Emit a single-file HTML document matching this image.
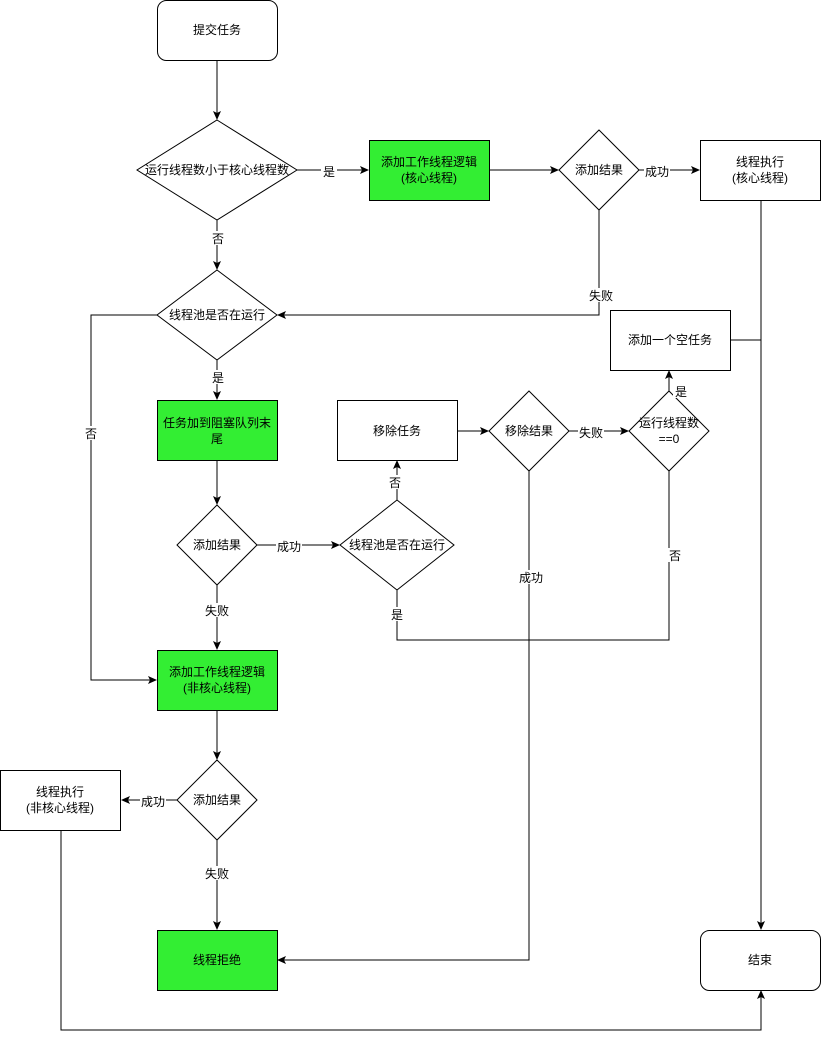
<!DOCTYPE html>
<html><head><meta charset="utf-8"><style>
html,body{margin:0;padding:0;background:#fff;}
svg{display:block;}
text{font-family:"Liberation Sans","Noto Sans CJK SC",sans-serif;font-size:12px;fill:#000;}
</style></head><body>
<svg width="821" height="1039" viewBox="0 0 821 1039" xmlns="http://www.w3.org/2000/svg">
<defs><marker id="a" markerWidth="10" markerHeight="10" refX="8" refY="5" orient="auto" markerUnits="userSpaceOnUse"><path d="M0,1 L9,5 L0,9 L2,5 Z" fill="#000"/></marker></defs>
<g fill="none" stroke="#000" stroke-width="1">
<path d="M217,60V119" marker-end="url(#a)"/>
<path d="M297,170H368" marker-end="url(#a)"/>
<path d="M490,170H558" marker-end="url(#a)"/>
<path d="M639,170H699" marker-end="url(#a)"/>
<path d="M217,220V269" marker-end="url(#a)"/>
<path d="M599,210V315H278" marker-end="url(#a)"/>
<path d="M761,200V929" marker-end="url(#a)"/>
<path d="M730,340H761"/>
<path d="M160,315H91V680H156" marker-end="url(#a)"/>
<path d="M217,360V399" marker-end="url(#a)"/>
<path d="M217,460V504" marker-end="url(#a)"/>
<path d="M257,545H339" marker-end="url(#a)"/>
<path d="M397,500V461" marker-end="url(#a)"/>
<path d="M457,431H488" marker-end="url(#a)"/>
<path d="M569,431H628" marker-end="url(#a)"/>
<path d="M669,391V371" marker-end="url(#a)"/>
<path d="M669,471V640H397V590"/>
<path d="M529,471V960H278" marker-end="url(#a)"/>
<path d="M217,585V649" marker-end="url(#a)"/>
<path d="M217,710V759" marker-end="url(#a)"/>
<path d="M177,800H122" marker-end="url(#a)"/>
<path d="M217,840V929" marker-end="url(#a)"/>
<path d="M61,830V1030H761V991" marker-end="url(#a)"/>
</g>
<g stroke="#000" stroke-width="1">
<rect x="157.5" y="0.5" width="120" height="60" rx="9" fill="#fff"/>
<polygon points="217,120 297,170 217,220 137,170" fill="#fff"/>
<rect x="369.5" y="140.5" width="120" height="60" fill="#33ee33"/>
<polygon points="599,130 639,170 599,210 559,170" fill="#fff"/>
<rect x="700.5" y="140.5" width="120" height="60" fill="#fff"/>
<polygon points="217,270 277,315 217,360 157,315" fill="#fff"/>
<rect x="610.5" y="310.5" width="120" height="60" fill="#fff"/>
<rect x="157.5" y="400.5" width="120" height="60" fill="#33ee33"/>
<rect x="337.5" y="400.5" width="120" height="60" fill="#fff"/>
<polygon points="529,391 569,431 529,471 489,431" fill="#fff"/>
<polygon points="669,391 709,431 669,471 629,431" fill="#fff"/>
<polygon points="217,505 257,545 217,585 177,545" fill="#fff"/>
<polygon points="397,500 454,545 397,590 340,545" fill="#fff"/>
<rect x="157.5" y="650.5" width="120" height="60" fill="#33ee33"/>
<polygon points="217,760 257,800 217,840 177,800" fill="#fff"/>
<rect x="0.5" y="770.5" width="120" height="60" fill="#fff"/>
<rect x="157.5" y="930.5" width="120" height="60" fill="#33ee33"/>
<rect x="700.5" y="930.5" width="120" height="60" rx="9" fill="#fff"/>
</g>
<g text-anchor="middle">
<text x="217" y="34">提交任务</text>
<text x="217" y="174">运行线程数小于核心线程数</text>
<text x="429" y="166">添加工作线程逻辑</text><text x="429" y="182">(核心线程)</text>
<text x="599" y="174">添加结果</text>
<text x="760" y="166">线程执行</text><text x="760" y="182">(核心线程)</text>
<text x="217" y="319">线程池是否在运行</text>
<text x="670" y="344">添加一个空任务</text>
<text x="217" y="427">任务加到阻塞队列末</text><text x="217" y="443">尾</text>
<text x="397" y="435">移除任务</text>
<text x="529" y="435">移除结果</text>
<text x="669" y="427">运行线程数</text><text x="669" y="443">==0</text>
<text x="217" y="549">添加结果</text>
<text x="397" y="549">线程池是否在运行</text>
<text x="217" y="676">添加工作线程逻辑</text><text x="217" y="692">(非核心线程)</text>
<text x="217" y="804">添加结果</text>
<text x="60" y="796">线程执行</text><text x="60" y="812">(非核心线程)</text>
<text x="217" y="964">线程拒绝</text>
<text x="760" y="964">结束</text>
</g>
<g text-anchor="middle" font-size="11">
<rect x="321" y="164" width="16" height="14" fill="#fff"/><text x="329" y="176">是</text>
<rect x="644" y="164" width="26" height="14" fill="#fff"/><text x="657" y="176">成功</text>
<rect x="210" y="231" width="16" height="14" fill="#fff"/><text x="218" y="243">否</text>
<rect x="588" y="288" width="26" height="14" fill="#fff"/><text x="601" y="300">失败</text>
<rect x="83" y="426" width="16" height="14" fill="#fff"/><text x="91" y="438">否</text>
<rect x="210" y="370" width="16" height="14" fill="#fff"/><text x="218" y="382">是</text>
<rect x="276" y="539" width="26" height="14" fill="#fff"/><text x="289" y="551">成功</text>
<rect x="387" y="475" width="16" height="14" fill="#fff"/><text x="395" y="487">否</text>
<rect x="578" y="425" width="26" height="14" fill="#fff"/><text x="591" y="437">失败</text>
<rect x="673" y="384" width="16" height="14" fill="#fff"/><text x="681" y="396">是</text>
<rect x="667" y="548" width="16" height="14" fill="#fff"/><text x="675" y="560">否</text>
<rect x="389" y="607" width="16" height="14" fill="#fff"/><text x="397" y="619">是</text>
<rect x="518" y="570" width="26" height="14" fill="#fff"/><text x="531" y="582">成功</text>
<rect x="204" y="603" width="26" height="14" fill="#fff"/><text x="217" y="615">失败</text>
<rect x="140" y="794" width="26" height="14" fill="#fff"/><text x="153" y="806">成功</text>
<rect x="204" y="866" width="26" height="14" fill="#fff"/><text x="217" y="878">失败</text>
</g>
</svg>
</body></html>
